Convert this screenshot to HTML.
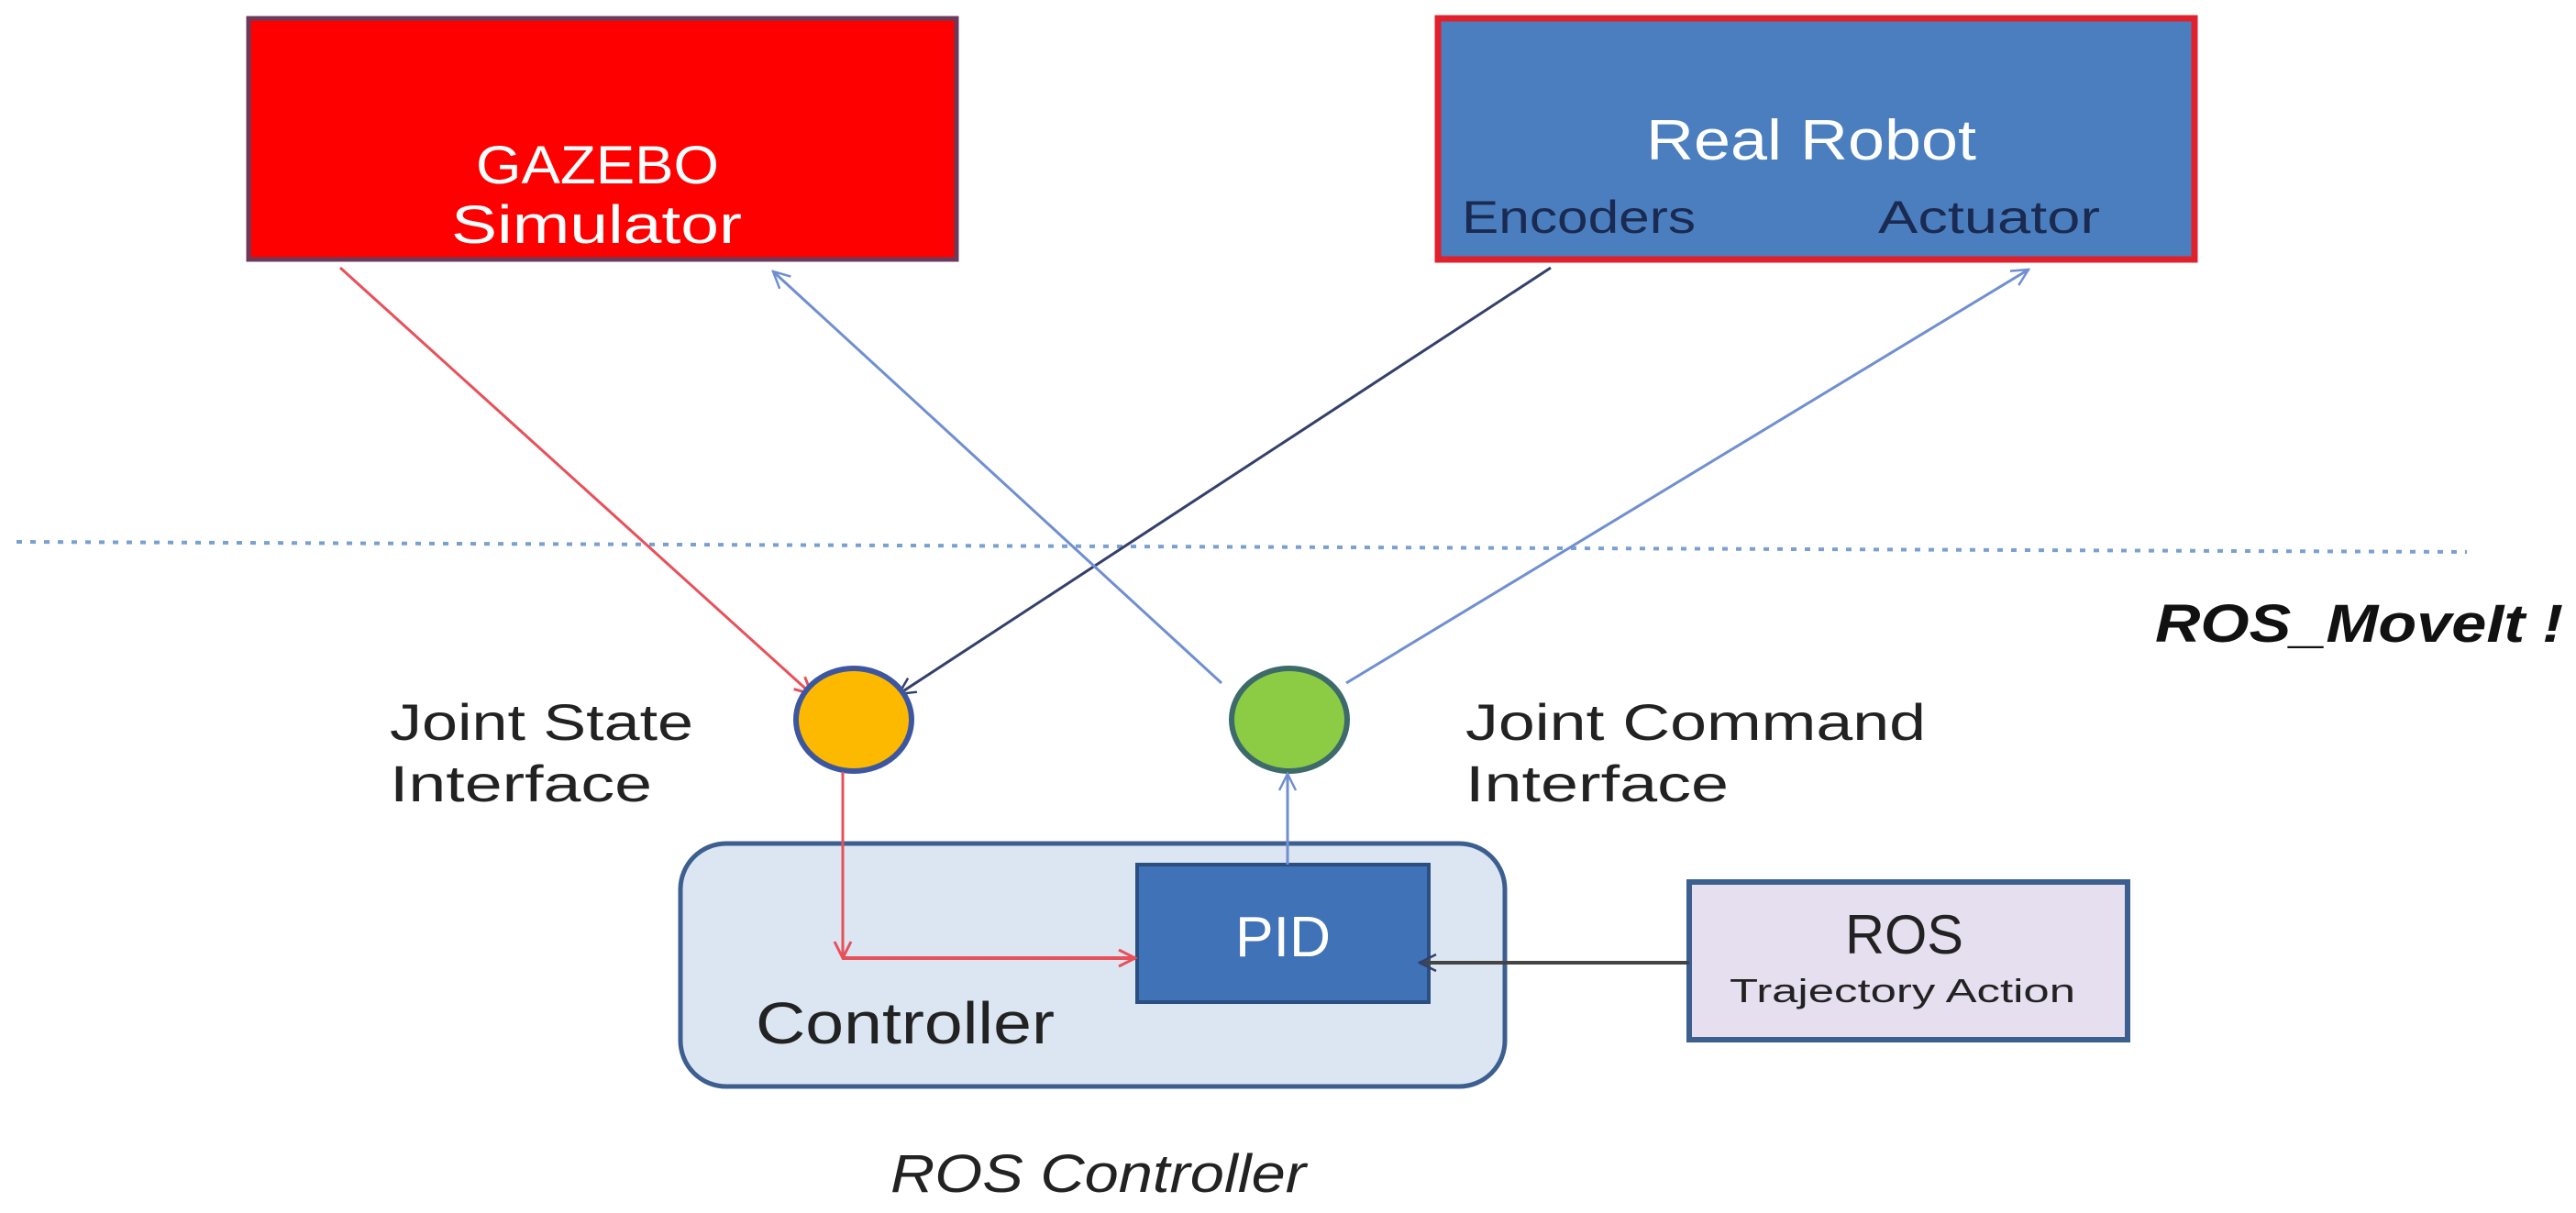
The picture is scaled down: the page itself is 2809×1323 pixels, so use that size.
<!DOCTYPE html>
<html><head><meta charset="utf-8"><style>
html,body{margin:0;padding:0;background:#fff;}
svg{display:block;}
text{font-family:"Liberation Sans",sans-serif;}
</style></head><body>
<svg width="2809" height="1323" viewBox="0 0 2809 1323" xmlns="http://www.w3.org/2000/svg">
<defs>
<marker id="ab" markerWidth="22" markerHeight="22" refX="20" refY="11" orient="auto" markerUnits="userSpaceOnUse"><path d="M2,2 L20,11 L2,20" fill="none" stroke="#6f8fd0" stroke-width="2.5"/></marker>
<marker id="ad" markerWidth="22" markerHeight="22" refX="20" refY="11" orient="auto" markerUnits="userSpaceOnUse"><path d="M2,2 L20,11 L2,20" fill="none" stroke="#34406a" stroke-width="2.5"/></marker>
<marker id="ar2" markerWidth="22" markerHeight="22" refX="20" refY="11" orient="auto" markerUnits="userSpaceOnUse"><path d="M2,2 L20,11 L2,20" fill="none" stroke="#e8505a" stroke-width="3"/></marker>
</defs>
<rect x="271" y="20" width="772" height="263" fill="#fe0000" stroke="#6b3a5a" stroke-width="5"/>
<text x="519" y="200" font-size="58" fill="#fff" textLength="265" lengthAdjust="spacingAndGlyphs">GAZEBO</text>
<text x="492" y="265" font-size="58" fill="#fff" textLength="317" lengthAdjust="spacingAndGlyphs">Simulator</text>
<rect x="1568" y="20" width="825" height="263" fill="#4a7ebf" stroke="#e0202a" stroke-width="7"/>
<text x="1795" y="174" font-size="62" fill="#fff" textLength="360" lengthAdjust="spacingAndGlyphs">Real  Robot</text>
<text x="1594" y="254" font-size="50" fill="#1a2a50" textLength="255" lengthAdjust="spacingAndGlyphs">Encoders</text>
<text x="2048" y="254" font-size="50" fill="#1a2a50" textLength="242" lengthAdjust="spacingAndGlyphs">Actuator</text>
<line x1="18" y1="591" x2="2690" y2="602" stroke="#7aa0d0" stroke-width="4" stroke-dasharray="6,9"/>
<text x="2350" y="700" font-size="58" font-weight="bold" font-style="italic" fill="#111" textLength="445" lengthAdjust="spacingAndGlyphs">ROS_MoveIt !</text>
<line x1="371" y1="292" x2="885" y2="757" stroke="#e8505a" stroke-width="3" marker-end="url(#ar2)"/>
<line x1="1691" y1="292" x2="980" y2="757" stroke="#34406a" stroke-width="3" marker-end="url(#ad)"/>
<line x1="1332" y1="745" x2="843" y2="296" stroke="#6f8fd0" stroke-width="3" marker-end="url(#ab)"/>
<line x1="1468" y1="745" x2="2212" y2="294" stroke="#6f8fd0" stroke-width="3" marker-end="url(#ab)"/>
<ellipse cx="931" cy="785" rx="63" ry="56" fill="#fdb900" stroke="#3d56a0" stroke-width="6"/>
<ellipse cx="1406" cy="785" rx="63" ry="56" fill="#8ccc44" stroke="#3d6a6a" stroke-width="6"/>
<text x="425" y="807" font-size="56" fill="#222" textLength="331" lengthAdjust="spacingAndGlyphs">Joint State</text>
<text x="425" y="874" font-size="56" fill="#222" textLength="286" lengthAdjust="spacingAndGlyphs">Interface</text>
<text x="1598" y="807" font-size="56" fill="#222" textLength="502" lengthAdjust="spacingAndGlyphs">Joint Command</text>
<text x="1598" y="874" font-size="56" fill="#222" textLength="287" lengthAdjust="spacingAndGlyphs">Interface</text>
<rect x="742" y="920" width="899" height="265" rx="50" fill="#dce6f2" stroke="#3d5f90" stroke-width="5"/>
<text x="824" y="1138" font-size="64" fill="#222" textLength="326" lengthAdjust="spacingAndGlyphs">Controller</text>
<rect x="1240" y="943" width="318" height="150" fill="#3f72b6" stroke="#2a4f80" stroke-width="4"/>
<text x="1347" y="1043" font-size="62" fill="#fff" textLength="104" lengthAdjust="spacingAndGlyphs">PID</text>
<rect x="1842" y="962" width="478" height="172" fill="#e6dff0" stroke="#3d5f90" stroke-width="6"/>
<text x="2012" y="1040" font-size="60" fill="#222" textLength="129" lengthAdjust="spacingAndGlyphs">ROS</text>
<text x="1886" y="1093" font-size="36" fill="#222" textLength="377" lengthAdjust="spacingAndGlyphs">Trajectory  Action</text>
<line x1="919" y1="842" x2="919" y2="1045" stroke="#e8505a" stroke-width="3" marker-end="url(#ar2)"/>
<line x1="919" y1="1045" x2="1238" y2="1045" stroke="#e8505a" stroke-width="4" marker-end="url(#ar2)"/>
<line x1="1404" y1="943" x2="1404" y2="844" stroke="#6f8fd0" stroke-width="3" marker-end="url(#ab)"/>
<line x1="1842" y1="1050" x2="1548" y2="1050" stroke="#444" stroke-width="4" marker-end="url(#ad)"/>
<text x="971" y="1300" font-size="58" font-style="italic" fill="#222" textLength="453" lengthAdjust="spacingAndGlyphs">ROS Controller</text>
</svg>
</body></html>
